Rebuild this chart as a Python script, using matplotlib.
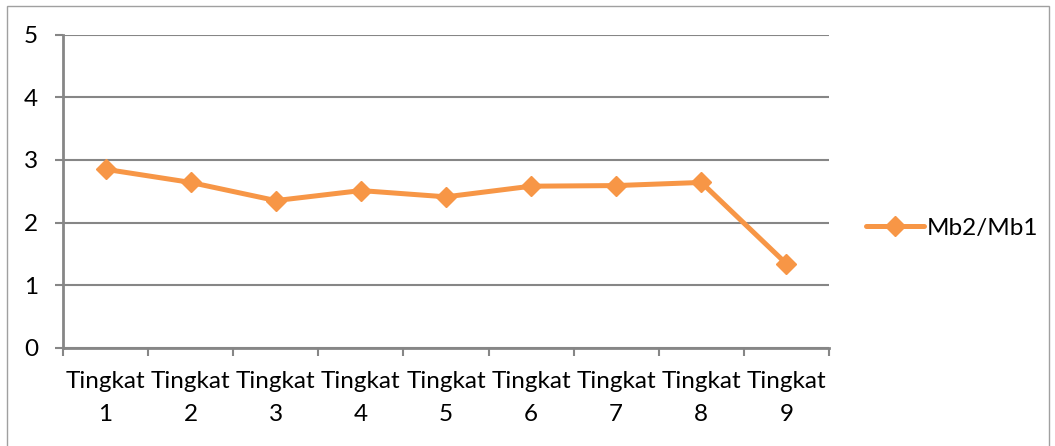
import matplotlib
matplotlib.use("Agg")
import matplotlib.pyplot as plt
from matplotlib.patches import Rectangle

categories = ["Tingkat\n1", "Tingkat\n2", "Tingkat\n3", "Tingkat\n4", "Tingkat\n5",
              "Tingkat\n6", "Tingkat\n7", "Tingkat\n8", "Tingkat\n9"]
series_name = "Mb2/Mb1"
values = [2.85, 2.64, 2.35, 2.51, 2.41, 2.58, 2.59, 2.64, 1.34]
y_ticks = [0, 1, 2, 3, 4, 5]

plt.rcParams['font.family'] = ['Lato', 'DejaVu Sans']

W, H = 1055, 446
fig = plt.figure(figsize=(W / 100, H / 100), dpi=100)
ax = fig.add_axes([63 / W, 1 - 347.7 / H, (829 - 63) / W, (347.7 - 34.7) / H])

grid_c = "#868686"
orange = "#F79646"
x = list(range(len(categories)))

ax.plot(x, values, color=orange, lw=3.6, marker="D", ms=10, mec=orange, mfc=orange,
        label=series_name, zorder=3, solid_joinstyle="round", solid_capstyle="round")

ax.set_ylim(0, 5)
ax.set_xlim(-0.5, len(categories) - 0.5)
ax.set_yticks(y_ticks)
ax.set_yticklabels([str(v) for v in y_ticks], fontsize=17.5)
ax.yaxis.grid(True, color=grid_c, lw=1.5)
ax.set_axisbelow(True)

ax.set_xticks([i - 0.5 for i in range(len(categories) + 1)])
ax.set_xticklabels([])
ax.set_xticks(x, minor=True)
ax.set_xticklabels(categories, minor=True, fontsize=17.5, linespacing=1.7)
ax.tick_params(axis="x", which="minor", length=0, pad=17)
ax.tick_params(axis="x", which="major", length=6, width=1.5, color=grid_c, direction="out")
ax.tick_params(axis="y", length=6, width=1.5, color=grid_c, pad=12)

for s in ["top", "right"]:
    ax.spines[s].set_visible(False)
for s in ["left", "bottom"]:
    ax.spines[s].set_color(grid_c)
    ax.spines[s].set_linewidth(2)

leg = fig.legend(loc="center left", bbox_to_anchor=(866 / W, 1 - 228 / H), frameon=False,
                 fontsize=17.5, handlelength=2.4, handletextpad=0.1, borderpad=0,
                 borderaxespad=0)

fig.patches.append(Rectangle((7 / W, -5 / H), (1049 - 7) / W, (446 - 6 + 5) / H,
                             transform=fig.transFigure, fill=False, ec="#A0A0A0", lw=1))

fig.savefig("out.png", dpi=100)
